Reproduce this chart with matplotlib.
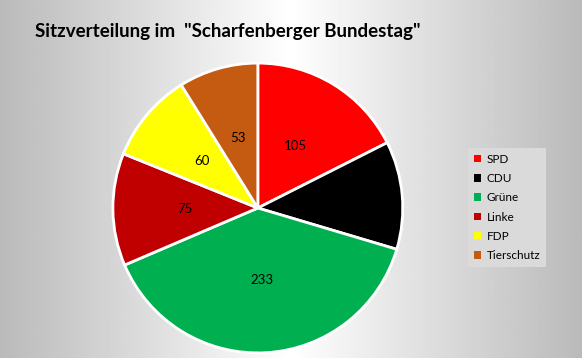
import numpy as np
import matplotlib.pyplot as plt
from matplotlib.patches import Patch

# Sitze je Partei
parteien = ['SPD', 'CDU', 'Grüne', 'Linke', 'FDP', 'Tierschutz']
sitze = [105, 72, 233, 75, 60, 53]
farben = ['#FF0000', '#000000', '#00B050', '#C00000', '#FFFF00', '#C55A11']

fig = plt.figure(figsize=(5.82, 3.58), dpi=100)

# grauer Verlauf im Hintergrund
bg = fig.add_axes([0, 0, 1, 1], zorder=-1)
x = np.linspace(-1, 1, 400)
grad = 1 - 0.27 * np.abs(x)
bg.imshow(grad[np.newaxis, :], cmap='gray', vmin=0, vmax=1, aspect='auto',
          extent=[0, 1, 0, 1])
bg.axis('off')

ax = fig.add_axes([0.194, 0.014, 0.498, 0.81])
ax.set_facecolor('none')
wedges, texts = ax.pie(sitze, colors=farben, startangle=90, counterclock=False,
                       radius=1.0, labels=None,
                       wedgeprops=dict(edgecolor='white', linewidth=2))
for w, v in zip(wedges, sitze):
    ang = np.deg2rad((w.theta1 + w.theta2) / 2)
    ax.text(0.5 * np.cos(ang), 0.5 * np.sin(ang), str(v), ha='center',
            va='center', fontsize=9.5, family='Lato', color='black')
ax.set_xlim(-1, 1)
ax.set_ylim(-1, 1)
ax.set_aspect('equal')

fig.text(0.06, 0.912, 'Sitzverteilung im  "Scharfenberger Bundestag"',
         fontsize=13.5, fontweight='bold', family='Lato', va='center')

handles = [Patch(facecolor=c, edgecolor='none') for c in farben]
leg = fig.legend(handles, parteien, loc='upper left',
                 bbox_to_anchor=(462 / 582, 1 - 142 / 358),
                 prop={'family': 'Lato', 'size': 8.5}, frameon=True,
                 facecolor='#DADADA', edgecolor='none', framealpha=1,
                 fancybox=False, handlelength=0.6, handleheight=0.6,
                 handletextpad=0.5, labelspacing=0.7, borderpad=0.5)

fig.savefig('out.png', dpi=100)
